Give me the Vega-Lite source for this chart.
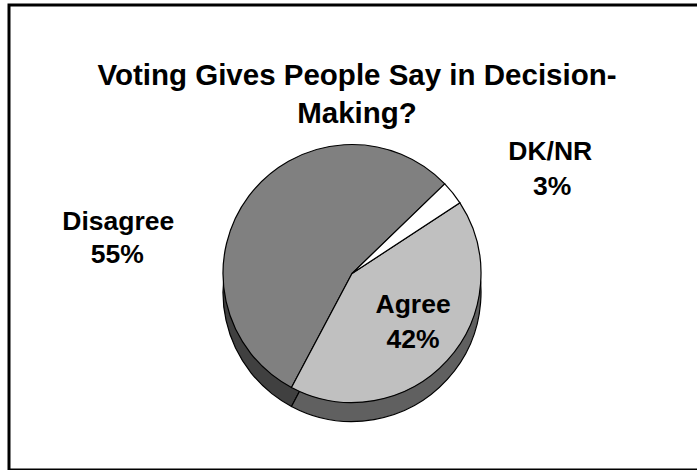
{
  "$schema": "https://vega.github.io/schema/vega-lite/v6.json",
  "width": 700,
  "height": 465,
  "autosize": "none",
  "padding": {"left": 9, "top": 5, "right": 0, "bottom": 0},
  "background": "white",
  "view": {"stroke": "black", "strokeWidth": 3, "fill": "white"},
  "config": {"view": {"stroke": "black", "strokeWidth": 3}},
  "title": {
    "text": ["Voting Gives People Say in Decision-", "Making?"],
    "font": "Liberation Sans",
    "fontSize": 29.5,
    "fontWeight": "bold",
    "color": "black",
    "anchor": "middle",
    "frame": "group",
    "offset": -124,
    "lineHeight": 38,
    "dx": -2
  },
  "data": {
    "values": [
      {"answer": "Disagree", "share": 0.55},
      {"answer": "Agree", "share": 0.42},
      {"answer": "DK/NR", "share": 0.03}
    ]
  },
  "encoding": {
    "theta": {"field": "share", "type": "quantitative", "stack": true, "scale": {"range": [3.630, 9.913]}},
    "order": {"field": "answer", "type": "nominal", "sort": "descending"}
  },
  "layer": [
    {
      "mark": {"type": "arc", "outerRadius": 129, "xOffset": -7, "yOffset": 55, "stroke": "black", "strokeWidth": 1.2},
      "encoding": {
        "color": {"field": "answer", "type": "nominal", "legend": null,
          "scale": {"domain": ["Disagree", "Agree", "DK/NR"], "range": ["#404040", "#606060", "#606060"]}}
      }
    },
    {
      "mark": {"type": "arc", "outerRadius": 129, "xOffset": -7, "yOffset": 36, "stroke": "black", "strokeWidth": 1.2},
      "encoding": {
        "fill": {"field": "answer", "type": "nominal", "legend": null,
          "scale": {"domain": ["Disagree", "Agree", "DK/NR"], "range": ["#808080", "#c0c0c0", "#ffffff"]}}
      }
    },
    {
      "mark": {"type": "text", "radius": 80, "font": "Liberation Sans", "fontSize": 26.5, "fontWeight": "bold", "color": "black", "align": "center", "baseline": "middle", "dx": -5, "dy": 14},
      "encoding": {"text": {"condition": {"test": "datum.answer === 'Agree'", "field": "answer"}, "value": ""}}
    },
    {
      "mark": {"type": "text", "radius": 80, "font": "Liberation Sans", "fontSize": 26.5, "fontWeight": "bold", "color": "black", "align": "center", "baseline": "middle", "dx": -5, "dy": 49},
      "encoding": {"text": {"condition": {"test": "datum.answer === 'Agree'", "field": "share", "format": ".0%"}, "value": ""}}
    },
    {
      "mark": {"type": "text", "radius": 223, "font": "Liberation Sans", "fontSize": 26.5, "fontWeight": "bold", "color": "black", "align": "center", "baseline": "middle", "dx": 17, "dy": 54},
      "encoding": {"text": {"condition": {"test": "datum.answer === 'DK/NR'", "field": "answer"}, "value": ""}}
    },
    {
      "mark": {"type": "text", "radius": 223, "font": "Liberation Sans", "fontSize": 26.5, "fontWeight": "bold", "color": "black", "align": "center", "baseline": "middle", "dx": 19, "dy": 89},
      "encoding": {"text": {"condition": {"test": "datum.answer === 'DK/NR'", "field": "share", "format": ".0%"}, "value": ""}}
    },
    {
      "mark": {"type": "text", "radius": 200, "font": "Liberation Sans", "fontSize": 26.5, "fontWeight": "bold", "color": "black", "align": "center", "baseline": "middle", "dx": -81, "dy": 105},
      "encoding": {"text": {"condition": {"test": "datum.answer === 'Disagree'", "field": "answer"}, "value": ""}}
    },
    {
      "mark": {"type": "text", "radius": 200, "font": "Liberation Sans", "fontSize": 26.5, "fontWeight": "bold", "color": "black", "align": "center", "baseline": "middle", "dx": -82, "dy": 138},
      "encoding": {"text": {"condition": {"test": "datum.answer === 'Disagree'", "field": "share", "format": ".0%"}, "value": ""}}
    }
  ]
}
